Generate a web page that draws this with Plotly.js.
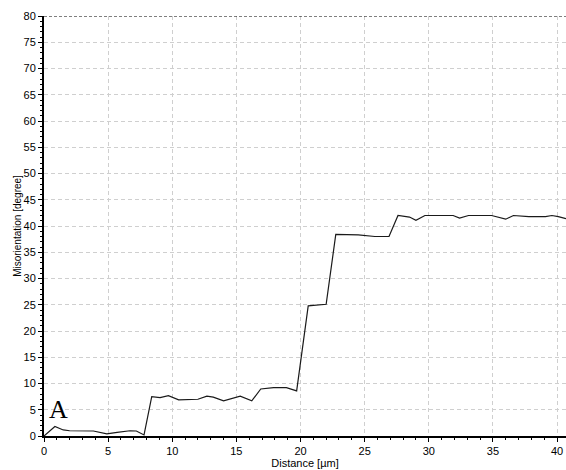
<!DOCTYPE html>
<html>
<head>
<meta charset="utf-8">
<script src="https://cdn.plot.ly/plotly-3.0.1.min.js"></script>
<style>html,body{margin:0;padding:0;background:#fff;}#chart{width:566px;height:470px;}</style>
</head>
<body>
<div id="chart"></div>
<script>
var distance = [0, 0.85, 1.5, 2.0, 3.85, 4.9, 5.7, 6.7, 7.2, 7.8, 8.4, 9.05, 9.7, 10.5, 12.0, 12.7, 13.2, 14.0, 15.3, 16.2, 16.9, 17.9, 18.9, 19.7, 20.6, 22.0, 22.75, 24.5, 25.8, 26.9, 27.6, 28.5, 29.0, 29.7, 31.9, 32.4, 33.1, 34.9, 36.0, 36.6, 37.8, 39.1, 39.6, 40.1, 40.7];
var misorientation = [0, 1.8, 1.15, 1.0, 0.95, 0.4, 0.7, 1.0, 0.95, 0.2, 7.5, 7.3, 7.7, 6.9, 7.0, 7.6, 7.4, 6.7, 7.6, 6.7, 8.95, 9.2, 9.2, 8.6, 24.8, 25.1, 38.4, 38.3, 38.0, 38.0, 42.0, 41.7, 41.1, 42.0, 42.0, 41.5, 42.0, 42.0, 41.3, 42.0, 41.8, 41.8, 42.0, 41.8, 41.4];
var xTicks = [0, 5, 10, 15, 20, 25, 30, 35, 40];
var yTicks = [0, 5, 10, 15, 20, 25, 30, 35, 40, 45, 50, 55, 60, 65, 70, 75, 80];
var panelLabel = "A";

var font = {family: "Liberation Sans, Arial, sans-serif", size: 11, color: "#000"};

var trace = {
  x: distance, y: misorientation, type: "scatter", mode: "lines",
  line: {color: "#1a1a1a", width: 1.2}, hoverinfo: "skip"
};

var layout = {
  width: 566, height: 470,
  margin: {l: 44, r: 0, t: 16, b: 34, pad: 0},
  paper_bgcolor: "#fff", plot_bgcolor: "#fff",
  showlegend: false,
  font: font,
  xaxis: {
    range: [0, 40.7], tickvals: xTicks, ticktext: xTicks.map(String),
    showgrid: true, gridcolor: "#cfcfcf", griddash: "4px,3px", gridwidth: 1,
    zeroline: false, showline: true, linecolor: "#000", linewidth: 2,
    ticks: "outside", ticklen: 4, tickcolor: "#000", tickwidth: 1,
    minor: {dtick: 1, ticks: "outside", ticklen: 2, tickcolor: "#000", showgrid: false},
    tickfont: font,
    title: {text: "Distance [µm]", font: font, standoff: 2}
  },
  yaxis: {
    range: [0, 80], tickvals: yTicks, ticktext: yTicks.map(String),
    showgrid: true, gridcolor: "#cfcfcf", griddash: "4px,3px", gridwidth: 1,
    zeroline: false, showline: true, linecolor: "#000", linewidth: 2,
    ticks: "outside", ticklen: 4, tickcolor: "#000", tickwidth: 1,
    minor: {dtick: 1, ticks: "outside", ticklen: 2, tickcolor: "#000", showgrid: false},
    tickfont: font,
    title: {text: "Misorientation [degree]", font: {family: font.family, size: 10, color: "#000"}, standoff: 0}
  },
  shapes: [{
    type: "line", xref: "paper", yref: "y", x0: 0, x1: 1, y0: 80, y1: 80,
    line: {color: "#000", width: 1, dash: "3px,2px"}
  }],
  annotations: [{
    text: panelLabel, xref: "x", yref: "y", x: 0.2, y: 1.9, xanchor: "left", yanchor: "bottom",
    showarrow: false, font: {family: "Liberation Serif, Times New Roman, serif", size: 26, color: "#000"}
  }]
};

Plotly.newPlot("chart", [trace], layout, {displayModeBar: false, staticPlot: true});
</script>
</body>
</html>
